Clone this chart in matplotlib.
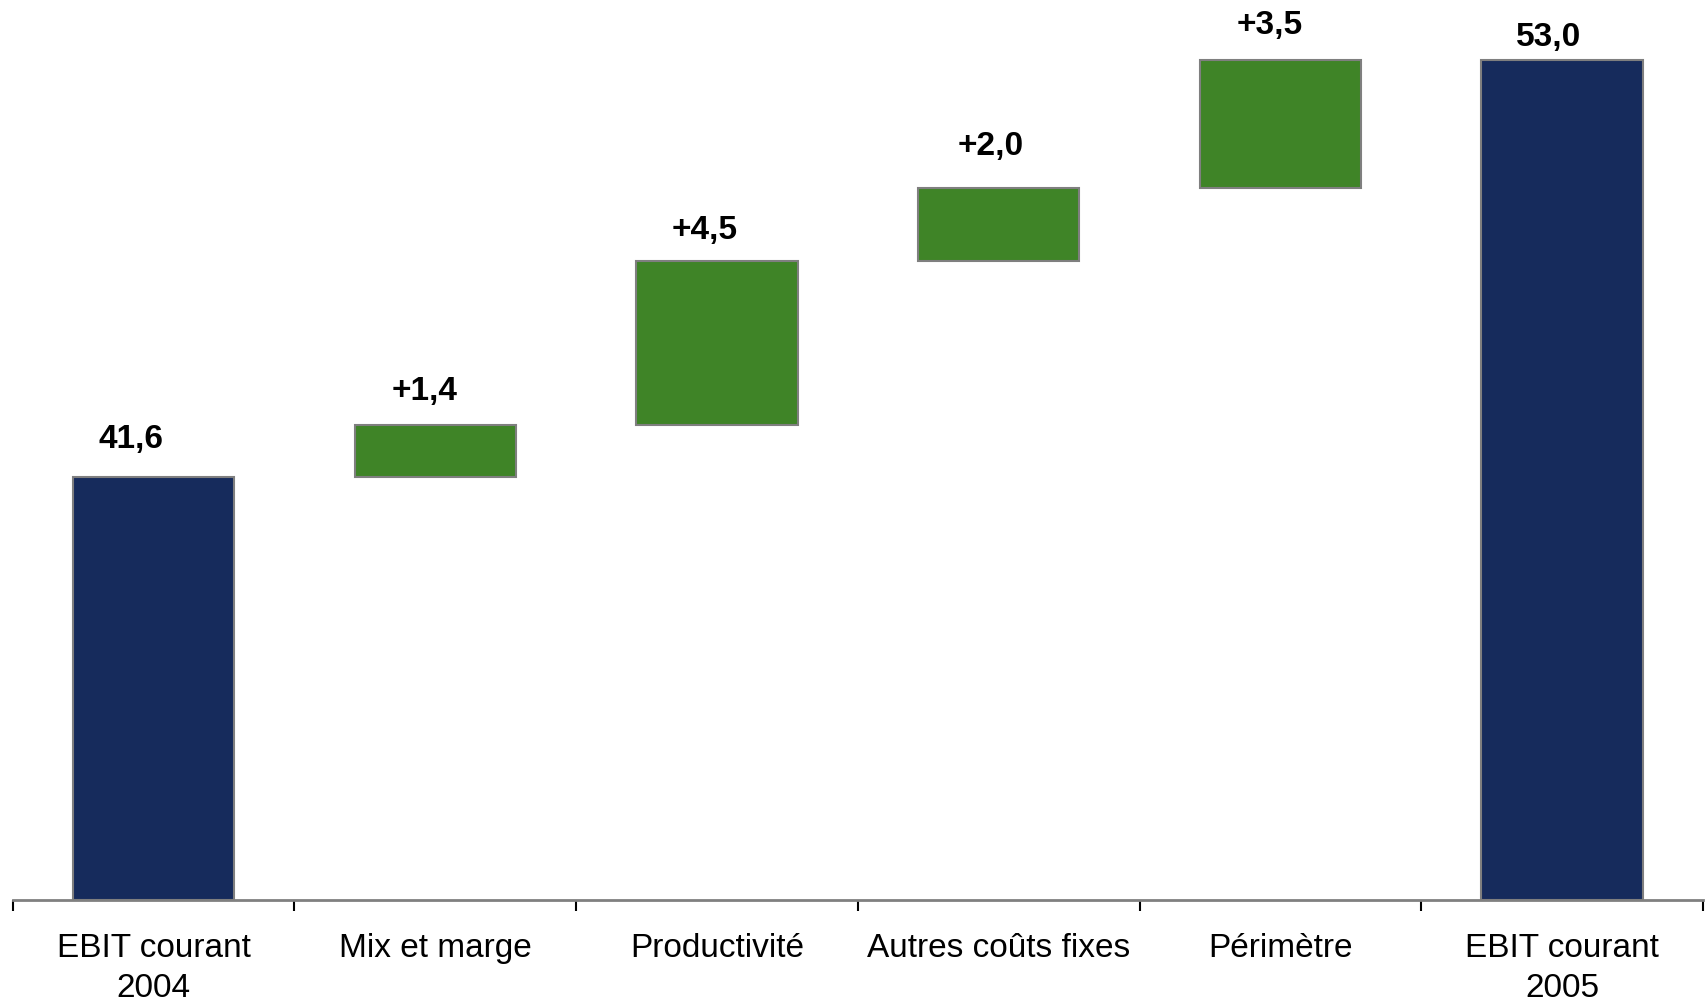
import matplotlib
matplotlib.use('Agg')
import matplotlib.pyplot as plt
import numpy as np

# données du pont EBIT
categories = ['EBIT courant\n2004', 'Mix et marge', 'Productivité',
              'Autres coûts fixes', 'Périmètre', 'EBIT courant\n2005']
start_value = 41.6
deltas = [1.4, 4.5, 2.0, 3.5]
end_value = 53.0
value_labels = ['41,6', '+1,4', '+4,5', '+2,0', '+3,5', '53,0']

NAVY = '#162B5C'
GREEN = '#3F8427'
EDGE = '#7F7F7F'

# décalage des étiquettes (points), comme dans la diapo d'origine
label_dx = [-16.5, -8, -9, -6, -8, -9.5]
label_dy = [21, 19, 17, 24.5, 19.5, 11]

plt.rcParams['font.family'] = ['Liberation Sans', 'DejaVu Sans']

fig = plt.figure(figsize=(17.07, 10.04), dpi=100)
ax = fig.add_axes([0.0074, 0.1026, 0.9903, 0.8974])

x = np.arange(len(categories))
bottoms = [30.0]
heights = [start_value - 30.0]
cum = start_value
for d in deltas:
    bottoms.append(cum)
    heights.append(d)
    cum += d
bottoms.append(30.0)
heights.append(end_value - 30.0)
colors = [NAVY] + [GREEN] * len(deltas) + [NAVY]

ax.bar(x, heights, bottom=bottoms, width=0.573, color=colors,
       edgecolor=EDGE, linewidth=1.5, zorder=2)

for i, (xi, b, h, lab) in enumerate(zip(x, bottoms, heights, value_labels)):
    ax.annotate(lab, xy=(xi, b + h), xytext=(label_dx[i], label_dy[i]),
                textcoords='offset points', ha='center', va='baseline',
                fontsize=24, fontweight='bold')

ax.set_xlim(-0.5, len(categories) - 0.5)
ax.set_ylim(30, 54.68)

for s in ['top', 'right', 'left']:
    ax.spines[s].set_visible(False)
ax.spines['bottom'].set_color('#808080')
ax.spines['bottom'].set_linewidth(2)
ax.set_yticks([])

ax.set_xticks(x)
ax.set_xticklabels(categories, fontsize=24, linespacing=1.38)
ax.tick_params(axis='x', which='major', length=0, pad=23)
ax.set_xticks(np.arange(-0.5, len(categories)), minor=True)
ax.tick_params(axis='x', which='minor', length=8, width=1.5, color='black')

fig.savefig('out.png', dpi=100)
